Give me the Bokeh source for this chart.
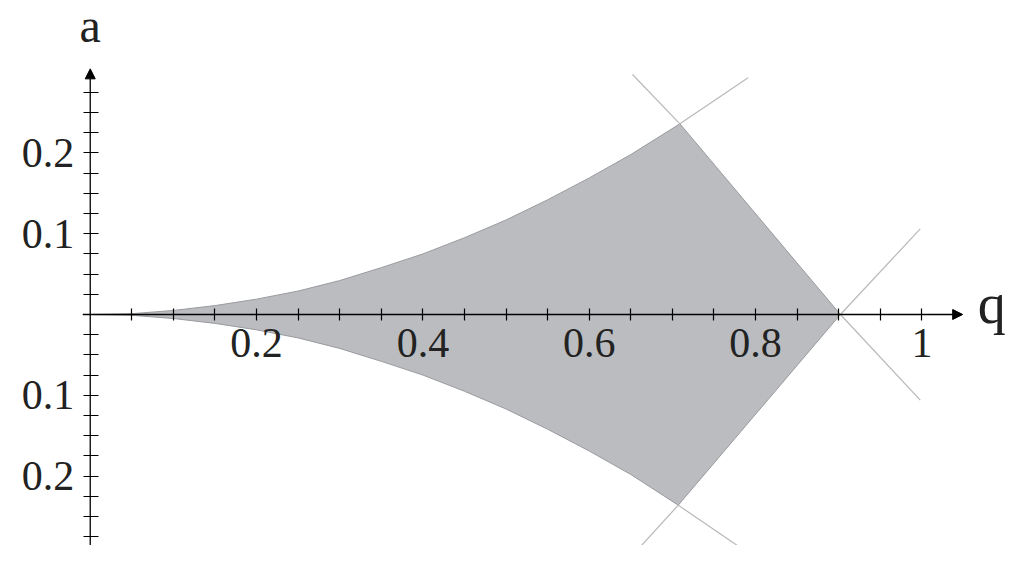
from bokeh.plotting import figure
from bokeh.models import LinearAxis, FixedTicker, Arrow, NormalHead, Label, Range1d
from bokeh.embed import file_html
from bokeh.resources import INLINE

# ---- data ----
upper_q = [0.0, 0.05, 0.10, 0.15, 0.20, 0.25, 0.30, 0.35, 0.40, 0.45, 0.50, 0.55, 0.60, 0.65, 0.709]
upper_a = [0.0, 0.001, 0.005, 0.011, 0.019, 0.029, 0.042, 0.058, 0.075, 0.095, 0.117, 0.142, 0.169, 0.198, 0.236]
lower_q = [0.0, 0.05, 0.10, 0.15, 0.20, 0.25, 0.30, 0.35, 0.40, 0.45, 0.50, 0.55, 0.60, 0.65, 0.707]
lower_a = [0.0, -0.001, -0.005, -0.011, -0.019, -0.029, -0.042, -0.058, -0.075, -0.095, -0.117, -0.142, -0.169, -0.198, -0.236]
right_vertex = (0.902, 0.0)

# thin boundary continuations beyond the corners
ext_q = [[0.709, 0.791], [0.709, 0.652], [0.902, 0.998], [0.902, 0.998], [0.707, 0.653], [0.707, 0.791]]
ext_a = [[0.236, 0.293], [0.236, 0.297], [0.0, 0.106], [0.0, -0.106], [-0.236, -0.297], [-0.236, -0.295]]

x_major = [0.2, 0.4, 0.6, 0.8, 1.0]
x_labels = {0.2: "0.2", 0.4: "0.4", 0.6: "0.6", 0.8: "0.8", 1.0: "1"}
x_minor = [0.05, 0.1, 0.15, 0.25, 0.3, 0.35, 0.45, 0.5, 0.55, 0.65, 0.7, 0.75, 0.85, 0.9, 0.95]
y_major = [-0.2, -0.1, 0.1, 0.2]
y_labels = {-0.2: "0.2", -0.1: "0.1", 0.1: "0.1", 0.2: "0.2"}
y_minor = [-0.275, -0.25, -0.225, -0.175, -0.15, -0.125, -0.075, -0.05, -0.025, 0.0,
           0.025, 0.05, 0.075, 0.125, 0.15, 0.175, 0.225, 0.25, 0.275]
q_axis = (-0.009, 1.049)
a_axis = (-0.296, 0.304)

FONT = "Liberation Serif"

p = figure(width=1006, height=545, x_range=Range1d(-0.1079, 1.1017), y_range=Range1d(-0.2859, 0.3886),
           output_backend="svg", toolbar_location=None, x_axis_location=None, y_axis_location=None,
           min_border=0, outline_line_color=None)
p.grid.visible = False
p.background_fill_color = "white"

# region
px = upper_q + [right_vertex[0]] + lower_q[::-1]
py = upper_a + [right_vertex[1]] + lower_a[::-1]
p.patch(px, py, fill_color="#babcbf", line_color="#999b9e", line_width=1)

p.multi_line(ext_q, ext_a, line_color="#b8b8b8", line_width=1.2)

# axes crossing at the origin
xaxis = LinearAxis(fixed_location=0, ticker=FixedTicker(ticks=x_major, minor_ticks=x_minor),
                   major_label_overrides=x_labels, axis_line_color=None,
                   major_tick_in=6, major_tick_out=6, minor_tick_in=6, minor_tick_out=6,
                   major_tick_line_color="black", minor_tick_line_color="black",
                   major_tick_line_width=1.2, minor_tick_line_width=1.2,
                   major_label_text_font=FONT, major_label_text_font_size="42px",
                   major_label_text_color="#222222", major_label_standoff=9)
yaxis = LinearAxis(fixed_location=0, ticker=FixedTicker(ticks=y_major, minor_ticks=y_minor),
                   major_label_overrides=y_labels, axis_line_color=None,
                   major_tick_in=8, major_tick_out=7, minor_tick_in=8, minor_tick_out=7,
                   major_tick_line_color="black", minor_tick_line_color="black",
                   major_tick_line_width=1.2, minor_tick_line_width=1.2,
                   major_label_text_font=FONT, major_label_text_font_size="42px",
                   major_label_text_color="#222222", major_label_standoff=9)
p.add_layout(xaxis, "below")
p.add_layout(yaxis, "left")

p.add_layout(Arrow(end=NormalHead(size=10, fill_color="black", line_color="black"),
                   x_start=q_axis[0], y_start=0, x_end=q_axis[1], y_end=0,
                   line_color="black", line_width=1.3))
p.add_layout(Arrow(end=NormalHead(size=10, fill_color="black", line_color="black"),
                   x_start=0, y_start=a_axis[0], x_end=0, y_end=a_axis[1],
                   line_color="black", line_width=1.3))

p.add_layout(Label(x=0, y=a_axis[1], text="a", text_align="center", text_baseline="alphabetic",
                   y_offset=43, text_font=FONT, text_font_size="48px", text_color="#222222"))
p.add_layout(Label(x=q_axis[1], y=0, text="q", text_align="left", text_baseline="alphabetic",
                   x_offset=15, y_offset=10, text_font=FONT, text_font_size="56px", text_color="#222222"))

open("out.html", "w").write(file_html(p, INLINE))
